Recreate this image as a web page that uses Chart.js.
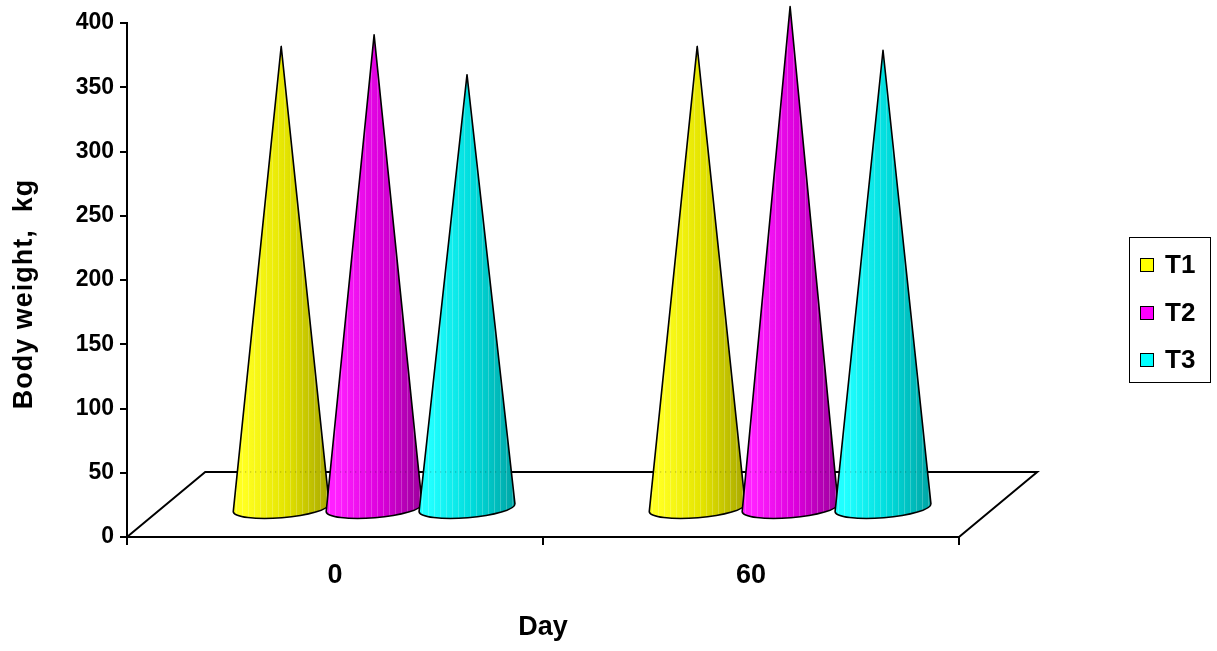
<!DOCTYPE html>
<html><head><meta charset="utf-8">
<script src="https://cdn.jsdelivr.net/npm/chart.js@4.4.0/dist/chart.umd.min.js"></script>
<style>html,body{margin:0;padding:0;background:#fff;overflow:hidden}</style>
</head><body>
<canvas id="c" width="1217" height="651"></canvas>
<script>
// ---- data ----
const categories = ['0', '60'];
const seriesNames = ['T1', 'T2', 'T3'];
const T1 = [359, 359];
const T2 = [368, 390];
const T3 = [337, 356];
const yMin = 0, yMax = 400, yStep = 50;
const xTitle = 'Day';
const yTitle = 'Body weight,  kg';

// ---- styles ----
const baseColors = ['#ffff00', '#ff00ff', '#00ffff'];
const shades = [
  ['#ffff20', '#e4e400', '#a8a800'],
  ['#ff20ff', '#dd00dd', '#9c009c'],
  ['#20ffff', '#00dcdc', '#00a4a4']
];
const FONT = "'Liberation Sans', Arial, sans-serif";

const conePlugin = {
  id: 'cones',
  beforeDatasetsDraw(chart) {
    const {ctx, scales: {x, y}} = chart;
    const y0 = y.getPixelForValue(yMin);
    const depthX = (x.right - x.left) * 0.094;
    const depthY = (y0 - y.top) * 0.1265;
    ctx.save();
    // floor
    ctx.strokeStyle = '#000';
    ctx.lineWidth = 2;
    ctx.beginPath();
    ctx.moveTo(x.left, y0);
    ctx.lineTo(x.left + depthX, y0 - depthY);
    ctx.lineTo(x.right + depthX, y0 - depthY);
    ctx.lineTo(x.right, y0);
    ctx.stroke();
    // cones
    const n = chart.data.datasets.length;
    const nCat = chart.data.labels.length;
    for (let i = 0; i < nCat; i++) {
      for (let di = 0; di < n; di++) {
        const ds = chart.data.datasets[di];
        const el = chart.getDatasetMeta(di).data[i];
        const r = el.width / 2 * 1.035;
        const cx = el.x + depthX / 2;
        const by = y0 - depthY * 0.45;
        const ty = y.getPixelForValue(ds.data[i]) - depthY * 0.45;
        const rot = -0.08;
        const ry = 10;
        const lx = cx - r * Math.cos(rot), ly = by - r * Math.sin(rot);
        const path = new Path2D();
        path.moveTo(cx, ty);
        path.lineTo(lx, ly);
        path.ellipse(cx, by, r, ry, rot, Math.PI, 0, true);
        path.closePath();
        const g = ctx.createLinearGradient(cx - r, 0, cx + r, 0);
        const sh = shades[di];
        g.addColorStop(0, sh[0]);
        g.addColorStop(0.12, sh[0]);
        g.addColorStop(0.55, sh[1]);
        g.addColorStop(1, sh[2]);
        ctx.fillStyle = g;
        ctx.fill(path);
        // faint vertical streaks
        ctx.save();
        ctx.clip(path);
        ctx.strokeStyle = 'rgba(255,255,255,0.22)';
        ctx.lineWidth = 1;
        ctx.beginPath();
        for (let sx = cx - r + 3; sx < cx + r; sx += 6) {
          ctx.moveTo(Math.round(sx) + 0.5, ty);
          ctx.lineTo(Math.round(sx) + 0.5, by + ry + 2);
        }
        ctx.stroke();
        ctx.restore();
        ctx.strokeStyle = '#000';
        ctx.lineWidth = 1.6;
        ctx.lineJoin = 'round';
        ctx.stroke(path);
      }
    }
    // dotted back edge seen through cones
    ctx.setLineDash([1, 4]);
    ctx.lineWidth = 1;
    ctx.strokeStyle = 'rgba(0,0,0,0.35)';
    ctx.beginPath();
    ctx.moveTo(x.left + depthX, y0 - depthY);
    ctx.lineTo(x.right + depthX, y0 - depthY);
    ctx.stroke();
    ctx.restore();
    return false;
  },
  afterDraw(chart) {
    const {ctx, scales: {y}} = chart;
    ctx.save();
    // y title
    ctx.translate(25, 294);
    ctx.rotate(-Math.PI / 2);
    ctx.fillStyle = '#000';
    ctx.font = "bold 27px " + FONT;
    ctx.textAlign = 'center';
    ctx.textBaseline = 'middle';
    try { ctx.letterSpacing = '1px'; } catch (e) {}
    ctx.fillText(yTitle, 0, 0);
    ctx.restore();
    // legend
    ctx.save();
    try { ctx.letterSpacing = '0px'; } catch (e) {}
    ctx.strokeStyle = '#000';
    ctx.lineWidth = 1;
    ctx.strokeRect(1129.5, 237.5, 81, 145);
    ctx.font = "bold 26px " + FONT;
    ctx.textBaseline = 'middle';
    ctx.textAlign = 'left';
    const cys = [265, 313, 360];
    chart.data.datasets.forEach((ds, i) => {
      ctx.fillStyle = baseColors[i];
      ctx.fillRect(1140.5, cys[i] - 6.5, 13, 13);
      ctx.strokeRect(1140.5, cys[i] - 6.5, 13, 13);
      ctx.fillStyle = '#000';
      ctx.fillText(ds.label, 1165, cys[i] + 1);
    });
    ctx.restore();
  }
};

const seriesData = [T1, T2, T3];
const chart = new Chart(document.getElementById('c'), {
  type: 'bar',
  data: {
    labels: categories,
    datasets: seriesNames.map((name, i) => ({
      label: name,
      data: seriesData[i],
      backgroundColor: baseColors[i],
      borderColor: '#000',
      borderWidth: 1
    }))
  },
  options: {
    responsive: false,
    animation: false,
    layout: {padding: {top: 23, right: 258, bottom: 0, left: 0}},
    datasets: {bar: {categoryPercentage: 0.67, barPercentage: 1}},
    plugins: {legend: {display: false}, tooltip: {enabled: false}},
    scales: {
      x: {
        grid: {display: true, drawOnChartArea: false, drawTicks: true, tickLength: 8, color: '#000', lineWidth: 2, offset: true},
        border: {color: '#000', width: 2},
        ticks: {color: '#000', font: {family: FONT, size: 27, weight: 'bold'}, padding: 14},
        title: {display: true, text: xTitle, color: '#000', font: {family: FONT, size: 27, weight: 'bold'}, padding: {top: 0, bottom: 7}},
        afterFit(s) { s.height = 114; }
      },
      y: {
        min: yMin, max: yMax,
        ticks: {stepSize: yStep, color: '#000', font: {family: FONT, size: 23, weight: 'bold'}, padding: 6},
        grid: {display: true, drawOnChartArea: false, drawTicks: true, tickLength: 7, color: '#000', lineWidth: 2},
        border: {color: '#000', width: 2},
        afterFit(s) { s.width = 127; }
      }
    }
  },
  plugins: [conePlugin]
});
</script>
</body></html>
